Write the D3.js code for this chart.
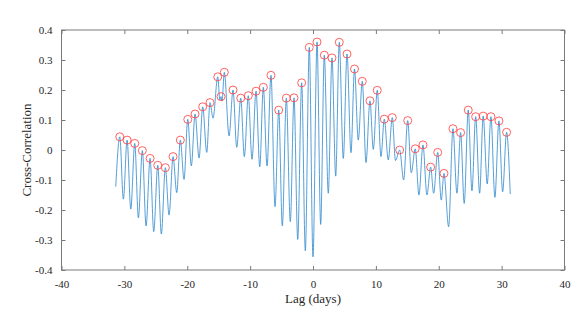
<!DOCTYPE html>
<html><head><meta charset="utf-8">
<script src="https://cdn.jsdelivr.net/npm/d3@7"></script>
<style>
html,body{margin:0;padding:0;background:#fff;}
svg{display:block;}
text{font-family:"Liberation Serif","Times New Roman",serif;fill:#262626;}
</style></head>
<body>
<svg id="chart" width="580" height="330"></svg>
<script>
// Local maxima (marked with red circles): lag in days, correlation
const peakLag = [-30.73,-29.57,-28.35,-27.14,-25.91,-24.69,-23.48,-22.26,-21.10,-19.92,-18.76,-17.54,-16.38,-15.15,-14.63,-14.10,-12.72,-11.49,-10.29,-9.06,-7.90,-6.68,-5.45,-4.24,-3.02,-1.80,-0.59,0.64,1.80,3.02,4.18,5.41,6.60,7.84,9.06,10.22,11.34,12.61,13.78,15.06,16.26,17.49,18.71,19.83,20.83,22.26,23.48,24.69,25.87,27.07,28.30,29.57,30.79];
const peakCorr = [0.044,0.033,0.022,-0.002,-0.028,-0.051,-0.059,-0.022,0.033,0.102,0.120,0.144,0.158,0.244,0.178,0.259,0.200,0.173,0.181,0.196,0.209,0.249,0.133,0.173,0.174,0.224,0.342,0.360,0.316,0.307,0.359,0.320,0.270,0.229,0.164,0.199,0.103,0.108,0.000,0.098,0.004,0.017,-0.057,-0.008,-0.078,0.071,0.058,0.133,0.111,0.113,0.111,0.097,0.059];
// Local minima (plus the two end points of the series)
const troughLag = [-31.37,-30.16,-28.98,-27.77,-26.55,-25.33,-24.12,-22.89,-21.67,-20.51,-19.35,-18.12,-16.90,-15.90,-14.82,-14.47,-13.35,-12.13,-10.92,-9.70,-8.47,-7.31,-6.04,-4.88,-3.61,-2.43,-1.22,0.00,1.22,2.43,3.61,4.82,6.04,7.20,8.43,9.59,10.81,11.97,13.12,14.42,15.63,16.85,18.12,19.19,20.40,21.57,22.89,24.05,25.28,26.50,27.71,28.93,30.16,31.37];
const troughCorr = [-0.122,-0.164,-0.197,-0.226,-0.253,-0.272,-0.280,-0.217,-0.142,-0.098,-0.053,-0.027,-0.008,0.106,0.167,0.163,0.047,0.009,-0.022,-0.031,-0.056,-0.053,-0.189,-0.253,-0.239,-0.298,-0.336,-0.356,-0.248,-0.144,-0.087,-0.028,-0.009,0.033,-0.042,0.002,-0.022,-0.033,-0.035,-0.100,-0.076,-0.150,-0.150,-0.144,-0.167,-0.256,-0.144,-0.178,-0.136,-0.144,-0.113,-0.158,-0.139,-0.147];

const xTicks = [-40,-30,-20,-10,0,10,20,30,40];
const xTickLabels = ["-40","-30","-20","-10","0","10","20","30","40"];
const yTicks = [-0.4,-0.3,-0.2,-0.1,0,0.1,0.2,0.3,0.4];
const yTickLabels = ["-0.4","-0.3","-0.2","-0.1","0","0.1","0.2","0.3","0.4"];
const xLabel = "Lag (days)";
const yLabel = "Cross-Correlation";

const svg = d3.select("#chart");
const L = 61.5, R = 564.5, T = 30, B = 270;
const x = d3.scaleLinear().domain([-40,40]).range([L,R]);
const y = d3.scaleLinear().domain([-0.4,0.4]).range([B,T]);

// series
const pts = peakLag.map((l,i)=>({lag:l,v:peakCorr[i]}))
  .concat(troughLag.map((l,i)=>({lag:l,v:troughCorr[i]})))
  .sort((a,b)=>a.lag-b.lag);

const line = d3.line().x(d=>x(d.lag)).y(d=>y(d.v)).curve(d3.curveMonotoneX);
svg.append("path").datum(pts).attr("d",line)
  .attr("fill","none").attr("stroke","#2b86cc").attr("stroke-width",0.8);

svg.append("g").selectAll("circle").data(peakLag).join("circle")
  .attr("cx",(d)=>x(d)).attr("cy",(d,i)=>y(peakCorr[i]))
  .attr("r",4).attr("fill","none").attr("stroke","#ff3b3b").attr("stroke-width",0.8);

// axes
const axCol = "#7a7a7a";
function styleAxis(g){
  g.select(".domain").remove();
  g.selectAll(".tick line").attr("stroke",axCol);
  g.selectAll(".tick text").style("font-family","'Liberation Serif',serif").style("font-size","11px").attr("fill","#262626");
}
svg.append("g").attr("transform",`translate(0,${B})`)
  .call(d3.axisBottom(x).tickValues(xTicks).tickSizeInner(-4).tickSizeOuter(0).tickPadding(10).tickFormat((d,i)=>xTickLabels[i]))
  .call(styleAxis);
svg.append("g").attr("transform",`translate(0,${T})`)
  .call(d3.axisTop(x).tickValues(xTicks).tickSizeInner(-4).tickSizeOuter(0).tickFormat(""))
  .call(styleAxis);
svg.append("g").attr("transform",`translate(${L},0)`)
  .call(d3.axisLeft(y).tickValues(yTicks).tickSizeInner(-4).tickSizeOuter(0).tickPadding(9).tickFormat((d,i)=>yTickLabels[i]))
  .call(styleAxis);
svg.append("g").attr("transform",`translate(${R},0)`)
  .call(d3.axisRight(y).tickValues(yTicks).tickSizeInner(-4).tickSizeOuter(0).tickFormat(""))
  .call(styleAxis);

svg.append("rect").attr("x",L).attr("y",T).attr("width",R-L).attr("height",B-T)
  .attr("fill","none").attr("stroke",axCol).attr("stroke-width",1);

svg.append("text").attr("x",(L+R)/2).attr("y",303).attr("text-anchor","middle")
  .style("font-size","13px").text(xLabel);
svg.append("text").attr("transform",`translate(31,${(T+B)/2}) rotate(-90)`).attr("text-anchor","middle")
  .style("font-size","13px").text(yLabel);
</script>
</body></html>
